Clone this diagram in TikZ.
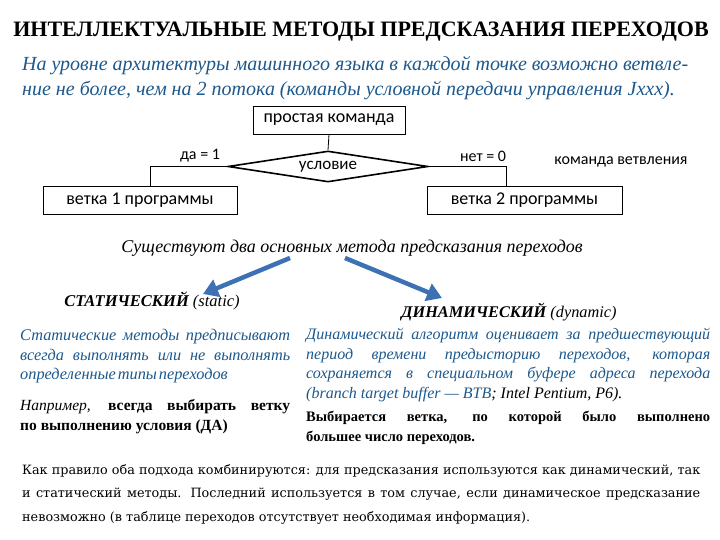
\documentclass[tikz,border=0pt]{standalone}
\usepackage{fontspec}
\setmainfont{Liberation Serif}
\newfontfamily\boldserif{Liberation Serif Bold}
\newfontfamily\calibri{Carlito}
\newfontfamily\wideserif{DejaVu Serif}
\usepackage{xcolor}
\usetikzlibrary{shapes.geometric,arrows.meta,positioning}
\definecolor{textblue}{RGB}{28,88,140}
\definecolor{arrowblue}{RGB}{62,112,180}

\begin{document}
\begin{tikzpicture}[x=1pt,y=-1pt,
    box/.style={draw,line width=0.8pt,inner sep=0pt,minimum height=28pt,
                font=\calibri\fontsize{18}{20}\selectfont},
    cond/.style={draw,diamond,line width=1.6pt,aspect=6.4,inner sep=0pt,
                 minimum width=200pt,minimum height=31pt,
                 font=\calibri\fontsize{17}{20}\selectfont},
    lbl/.style={font=\calibri\fontsize{16}{18}\selectfont,inner sep=0pt},
    para/.style={inner sep=0pt,align=justify,anchor=north west},
    bigarrow/.style={arrowblue,line width=4.5pt,-{Triangle[width=18pt,length=15pt]}}]
  \useasboundingbox (0,0) rectangle (720,540);

  % Title
  \node[font=\boldserif\fontsize{22}{25}\selectfont,inner sep=0pt] (title) at (361,32)
    {ИНТЕЛЛЕКТУАЛЬНЫЕ МЕТОДЫ ПРЕДСКАЗАНИЯ ПЕРЕХОДОВ};
  \node[para,text width=666pt,text=textblue,
        font=\itshape\fontsize{20}{25}\selectfont] (intro) at (22,56)
    {На уровне архитектуры машинного языка в каждой точке возможно ветвле-\linebreak
     ние не более, чем на 2 потока (команды условной передачи управления Jxxx).};

  % Flowchart
  \node[box,minimum width=152pt] (simple) at (329,120) {простая команда};
  \node[cond] (cond) at (328,166.5) {условие};
  \node[box,minimum width=194pt] (br1) at (140,200.5) {ветка 1 программы};
  \node[box,minimum width=195pt] (br2) at (524.5,200.5) {ветка 2 программы};
  \node[lbl] (yes) at (200,156) {да = 1};
  \node[lbl] (no) at (483,156) {нет = 0};
  \node[lbl] (kind) at (621,162) {команда ветвления};

  \draw[line width=0.8pt] (simple.south) -- (cond.north);
  \draw[line width=0.8pt] (cond.west) -| ([xshift=10pt]br1.north);
  \draw[line width=0.8pt] (cond.east) -| ([xshift=-18.5pt]br2.north);

  % Two methods
  \node[font=\itshape\fontsize{18}{20}\selectfont,inner sep=0pt] (methods) at (352,248)
    {Существуют два основных метода предсказания переходов};
  \node[font=\bfseries\itshape\fontsize{16.5}{18}\selectfont,inner sep=0pt] (static) at (152,301)
    {СТАТИЧЕСКИЙ \mdseries(static)};
  \node[font=\bfseries\itshape\fontsize{16.3}{18}\selectfont,inner sep=0pt] (dynamic) at (509,312)
    {ДИНАМИЧЕСКИЙ \mdseries(dynamic)};

  \coordinate (lfrom) at (290,258);
  \coordinate (lto) at (203,294);
  \coordinate (rfrom) at (345,258);
  \coordinate (rto) at (442,298);
  \draw[bigarrow] (lfrom) -- (lto);
  \draw[bigarrow] (rfrom) -- (rto);

  % Static column
  \node[para,text width=270pt,text=textblue,
        font=\itshape\fontsize{16.3}{19.5}\selectfont] (stattext) at (20,329)
    {\spaceskip=0.12em plus 2em minus 0.08em\relax
     Статические методы предписывают\linebreak
     всегда выполнять или не выполнять\linebreak
     определенные типы переходов};
  \node[para,text width=270pt,font=\boldserif\fontsize{15.5}{20}\selectfont,
        below=16pt of stattext.south west,anchor=north west] (statex)
    {{\rmfamily\mdseries\itshape Например,} всегда выбирать ветку\linebreak
     по выполнению условия (ДА)};

  % Dynamic column
  \node[para,text width=404pt,text=textblue,
        font=\itshape\fontsize{16}{19.5}\selectfont] (dyntext) at (306,328)
    {Динамический алгоритм оценивает за предшествующий\linebreak
     период времени предысторию переходов, которая\linebreak
     сохраняется в специальном буфере адреса перехода\linebreak
     (branch target buffer — BTB\textcolor{black}{; Intel Pentium, P6).}};
  \node[para,text width=404pt,font=\boldserif\fontsize{14.5}{20}\selectfont,
        below=9pt of dyntext.south west,anchor=north west] (dynex)
    {Выбирается ветка, по которой было выполнено\linebreak
     большее число переходов.};

  % Summary
  \node[para,text width=678pt,font=\wideserif\fontsize{12.8}{23.5}\selectfont] (summary) at (22,464)
    {Как правило оба подхода комбинируются: для предсказания используются как динамический, так\linebreak
     и статический методы. Последний используется в том случае, если динамическое предсказание\linebreak
     невозможно (в таблице переходов отсутствует необходимая информация).};
\end{tikzpicture}
\end{document}
